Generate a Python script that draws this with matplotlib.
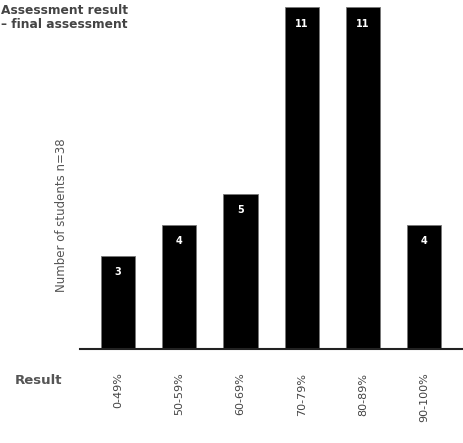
import numpy as np
import matplotlib
matplotlib.use("Agg")
import matplotlib.pyplot as plt

# score bands and how many students fell into each
bands = ['0-49%', '50-59%', '60-69%', '70-79%', '80-89%', '90-100%']
counts = [3, 4, 5, 11, 11, 4]

W, H = 464, 443
fig = plt.figure(figsize=(W / 100, H / 100), dpi=100)
ax = fig.add_axes([80 / W, 1 - 349 / H, 384 / W, 342 / H])

x = np.arange(len(bands))
bars = ax.bar(x, counts, width=0.56, color='black', edgecolor='#777777', linewidth=0.6)
for xi, c in zip(x, counts):
    ax.annotate(str(c), (xi, c), xytext=(0, -12), textcoords='offset points',
                ha='center', va='center', color='white', fontsize=7, fontweight='bold')

ax.set_xlim(-0.62, 5.65)
ax.set_ylim(0, 11)
for s in ['top', 'right', 'left']:
    ax.spines[s].set_visible(False)
ax.spines['bottom'].set_linewidth(1.5)
ax.spines['bottom'].set_color('#222222')
ax.set_yticks([])
ax.set_xticks(x)
ax.set_xticklabels(bands, rotation=90, fontsize=8, color='#444444', va='top')
ax.tick_params(axis='x', length=0, pad=17)

fig.text(1 / W, 1 - 4 / H, 'Assessment result\n\u2013 final assessment', ha='left', va='top',
         fontsize=8.8, fontweight='bold', color='#444444', linespacing=1.1)
fig.text(62 / W, 1 - 215 / H, 'Number of students n=38', rotation=90, ha='center', va='center',
         fontsize=8.5, color='#555555')
fig.text(15 / W, 1 - 381 / H, 'Result', ha='left', va='center',
         fontsize=9.5, fontweight='bold', color='#555555')

fig.savefig('out.png', dpi=100)
